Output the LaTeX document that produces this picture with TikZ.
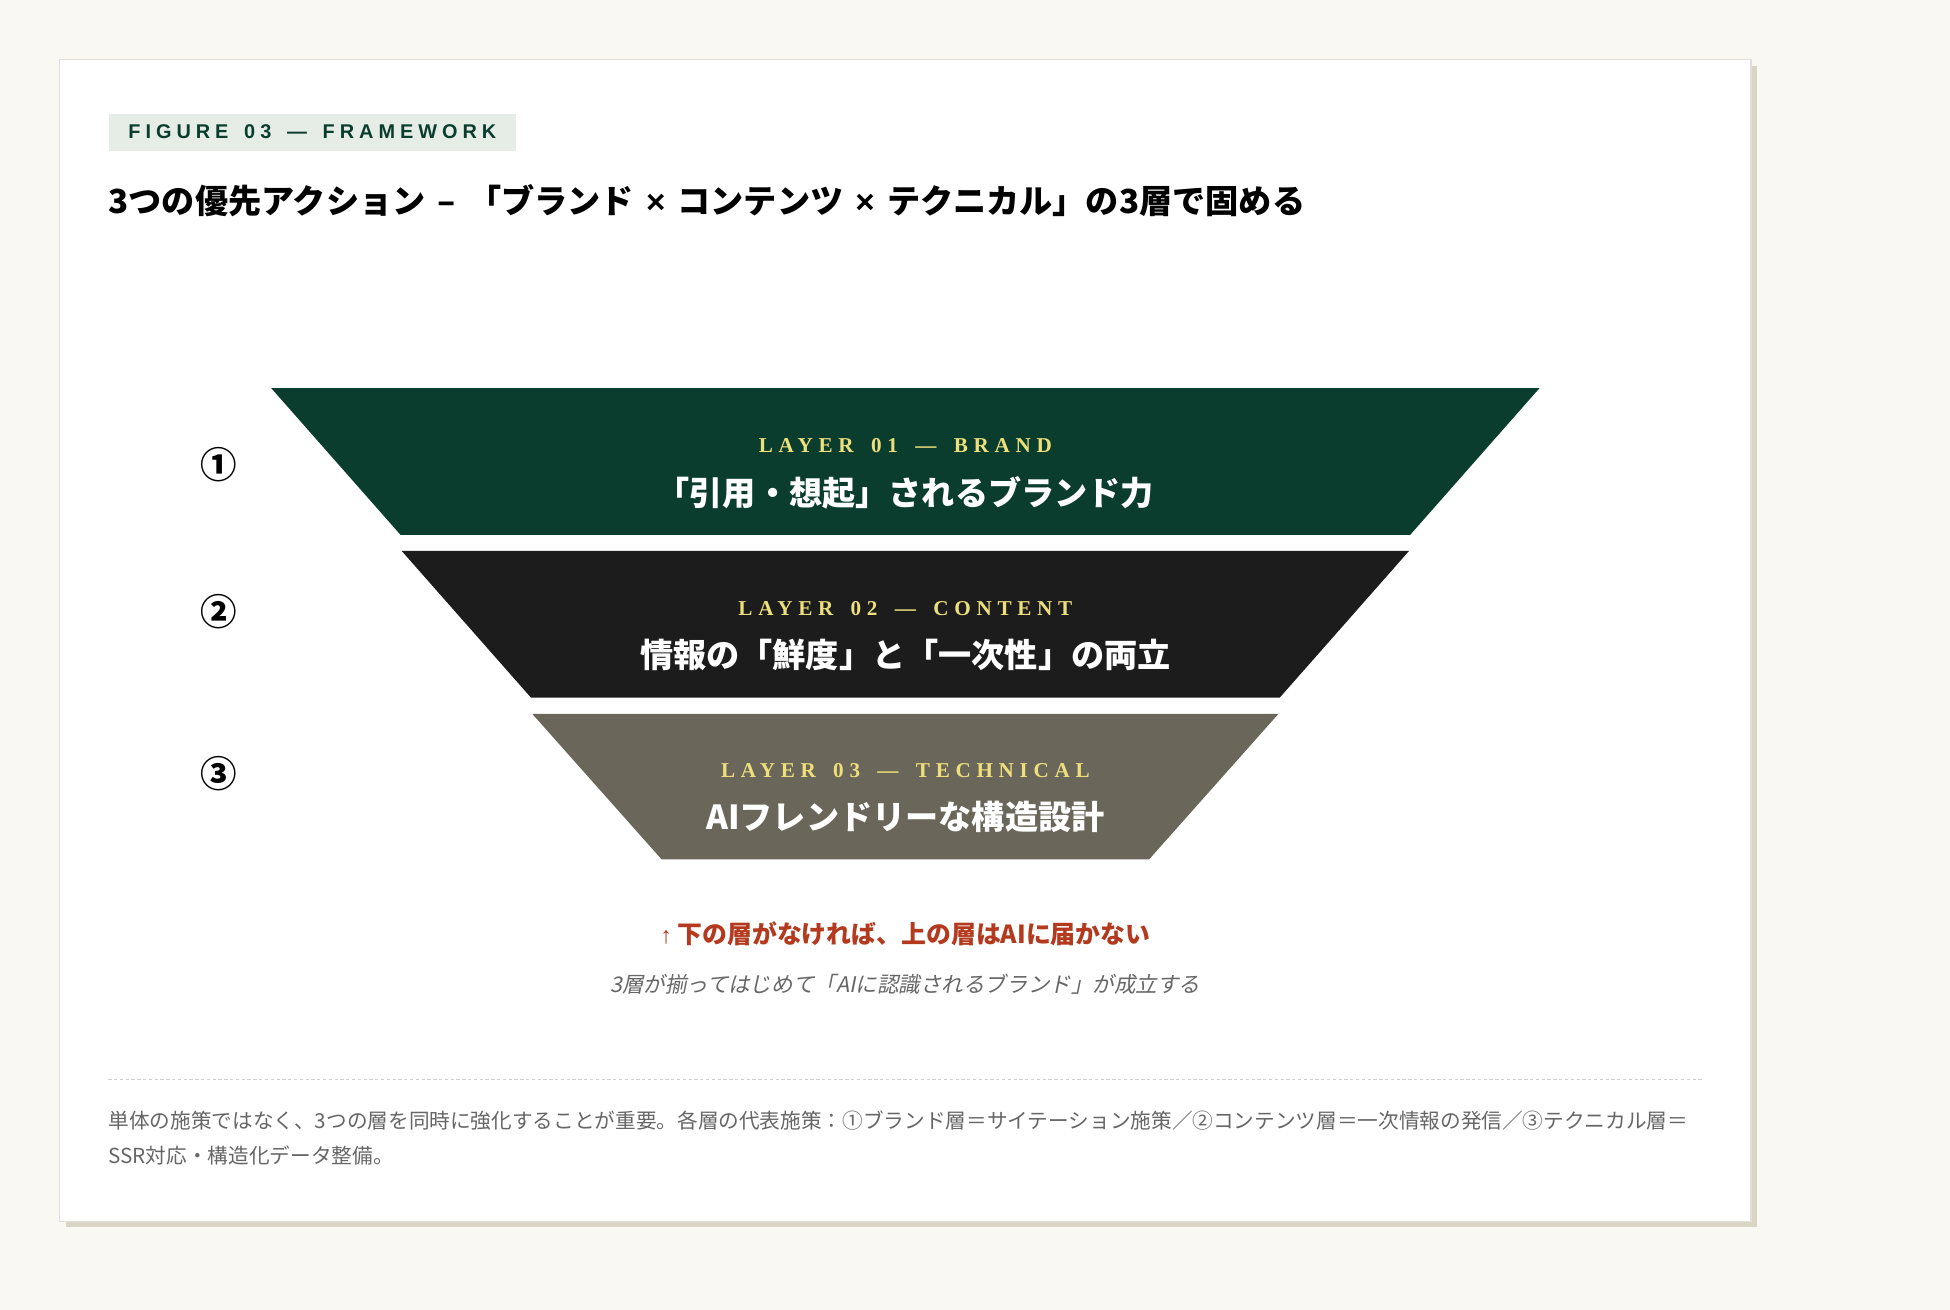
\documentclass[tikz,border=0pt]{standalone}
\usepackage{fontspec}
\setmainfont{Noto Sans CJK JP}
\newfontfamily\ttlfont[WordSpace=1.6]{Noto Sans CJK JP}
\newfontfamily\figfont[LetterSpace=25,WordSpace=1.5]{Liberation Sans}
\newfontfamily\lyrfont[LetterSpace=27,WordSpace=1.58]{Liberation Serif}
\newfontfamily\slantjp[FakeSlant=0.2]{Noto Sans CJK JP}
\newfontfamily\latinsans{Liberation Sans}
\usetikzlibrary{positioning}

\definecolor{pagebg}{HTML}{FAF8F3}
\definecolor{cardshadow}{HTML}{DAD4C5}
\definecolor{cardline}{HTML}{E2DFD8}
\definecolor{tagbg}{HTML}{E6EDE7}
\definecolor{darkgreen}{HTML}{0B3D2E}
\definecolor{lyrgreen}{HTML}{0B3D2E}
\definecolor{lyrblack}{HTML}{1C1C1C}
\definecolor{lyrtaupe}{HTML}{6B665A}
\definecolor{lyryellow}{HTML}{EDE07C}
\definecolor{noterust}{HTML}{B33A1E}
\definecolor{subgrey}{HTML}{666666}
\definecolor{dashgrey}{HTML}{CFCFCF}

\newcommand{\crs}{{\latinsans\bfseries ×}}

\begin{document}
\begin{tikzpicture}[x=0.75pt,y=-0.75pt,
	tagbox/.style={fill=tagbg,inner xsep=12pt,inner ysep=0pt,minimum height=22.5pt,
		font=\figfont\bfseries\fontsize{12}{14}\selectfont,text=darkgreen},
	ttl/.style={inner sep=0pt,font=\ttlfont\bfseries\fontsize{20}{24}\selectfont,text=black},
	lyrtag/.style={inner sep=0pt,font=\lyrfont\bfseries\fontsize{12.75}{15}\selectfont,text=lyryellow},
	lyrtxt/.style={inner sep=0pt,font=\bfseries\fontsize{20}{24}\selectfont,text=white},
	numb/.style={inner sep=0pt,font=\bfseries\fontsize{22}{26}\selectfont,text=black},
	foot/.style={inner sep=0pt,anchor=west,font=\fontsize{12.45}{21}\selectfont,text=subgrey}]
	\fill[pagebg] (0,0) rectangle (1568,1053);
	\useasboundingbox (0,0) rectangle (1568,1053);
	% card
	\fill[cardshadow] (53,53) rectangle (1413,987);
	\draw[cardline,fill=white,line width=0.75pt] (48,48) rectangle (1408,982);
	% header
	\node[tagbox,anchor=north west] (fig) at (87,91) {FIGURE 03 — FRAMEWORK};
	\node[ttl,anchor=west] (title) at (87,161) {3つの優先アクション – 「ブランド \crs{} コンテンツ \crs{} テクニカル」の3層で固める};
	% layers
	\fill[lyrgreen] (218,312) -- (1238,312) -- (1134,430) -- (322,430) -- cycle;
	\fill[lyrblack] (323,443) -- (1133,443) -- (1029,561) -- (427,561) -- cycle;
	\fill[lyrtaupe] (428,574) -- (1028,574) -- (924,691) -- (532,691) -- cycle;
	\node[lyrtag] (tag1) at (728,358) {LAYER 01 — BRAND};
	\node[lyrtxt] (txt1) at (728,396) {「引用・想起」されるブランド力};
	\node[lyrtag] (tag2) at (728,489) {LAYER 02 — CONTENT};
	\node[lyrtxt] (txt2) at (728,527) {情報の「鮮度」と「一次性」の両立};
	\node[lyrtag] (tag3) at (728,620) {LAYER 03 — TECHNICAL};
	\node[lyrtxt] (txt3) at (728,657) {AIフレンドリーな構造設計};
	\node[numb] (n1) at (176,374) {①};
	\node[numb] (n2) at (176,492) {②};
	\node[numb] (n3) at (176,622) {③};
	% notes
	\node[inner sep=0pt,font=\bfseries\fontsize{15}{18}\selectfont,text=noterust] (warn) at (728,751) {{\latinsans\mdseries\fontsize{14}{16}\selectfont ↑} 下の層がなければ、上の層はAIに届かない};
	\node[inner sep=0pt,font=\slantjp\fontsize{13}{16}\selectfont,text=subgrey] (sub) at (728,791) {3層が揃ってはじめて「AIに認識されるブランド」が成立する};
	\draw[dashgrey,line width=0.75pt,dash pattern=on 2pt off 1.5pt] (87,868) -- (1370,868);
	\node[foot] (foot1) at (87,901) {単体の施策ではなく、3つの層を同時に強化することが重要。各層の代表施策：①ブランド層＝サイテーション施策／②コンテンツ層＝一次情報の発信／③テクニカル層＝};
	\node[foot] (foot2) at (87,929) {SSR対応・構造化データ整備。};
\end{tikzpicture}
\end{document}
